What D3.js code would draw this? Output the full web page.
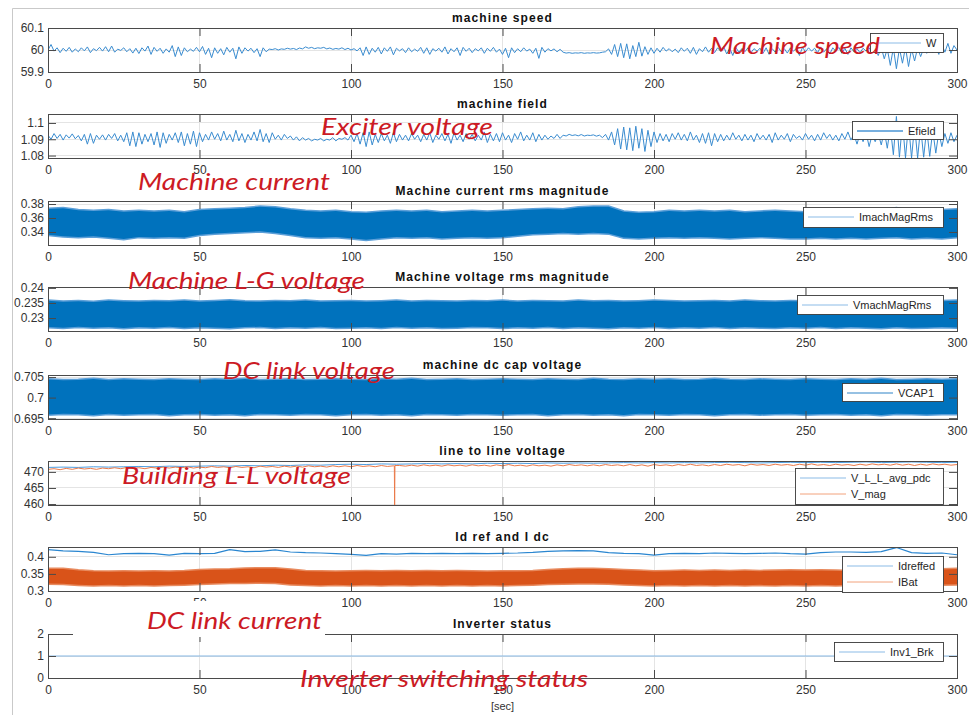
<!DOCTYPE html>
<html>
<head>
<meta charset="utf-8">
<script src="https://cdn.jsdelivr.net/npm/d3@7"></script>
<style>
  body { margin: 0; background: #fff; }
  svg { display: block; }
</style>
</head>
<body>
<div id="chart"></div>
<script>

/* ---- Data (time axis 0..300 s) ---- */

const timeTicks = [0, 50, 100, 150, 200, 250, 300];

const panelTitles = [
  'machine speed', 'machine field', 'Machine current rms magnitude',
  'Machine voltage rms magnitude', 'machine dc cap voltage',
  'line to line voltage', 'Id ref and I dc', 'Inverter status'];

const legendLabels = [
  ['W'], ['Efield'], ['ImachMagRms'], ['VmachMagRms'], ['VCAP1'],
  ['V_L_L_avg_pdc', 'V_mag'], ['Idreffed', 'IBat'], ['Inv1_Brk']];

const speedTicks = [59.9, 60, 60.1];
const fieldTicks = [1.08, 1.09, 1.1];
const imachTicks = [0.34, 0.36, 0.38];
const vmachTicks = [0.23, 0.235, 0.24];
const vcapTicks = [0.695, 0.7, 0.705];
const lineTicks = [460, 465, 470];
const idTicks = [0.3, 0.35, 0.4];
const invTicks = [0, 1, 2];

/** Machine speed W, one sample per second */
const speedW = [
  60.000, 60.025, 59.995, 60.010, 59.988, 60.008, 59.994, 60.012, 59.990, 60.005,
  59.992, 60.010, 59.996, 60.014, 59.988, 60.006, 59.997, 60.012, 59.995, 60.015,
  59.992, 60.018, 59.990, 60.004, 59.998, 60.010, 59.992, 60.006, 59.986, 60.008,
  59.984, 60.010, 59.995, 60.018, 59.980, 60.012, 59.994, 60.008, 59.985, 60.005,
  59.990, 60.020, 59.970, 60.014, 59.975, 60.010, 59.992, 60.004, 59.994, 60.012,
  59.992, 60.016, 59.980, 60.008, 59.965, 60.010, 59.985, 60.006, 59.978, 60.012,
  59.990, 60.008, 59.960, 60.014, 59.985, 60.010, 59.995, 60.008, 59.988, 60.006,
  59.970, 60.010, 59.992, 60.004, 60.002, 60.006, 60.000, 60.005, 60.003, 60.008,
  60.004, 60.007, 60.002, 60.009, 60.005, 60.014, 60.008, 60.012, 60.006, 60.010,
  60.008, 60.012, 60.005, 60.009, 60.003, 60.007, 60.004, 60.010, 60.002, 60.008,
  60.000, 60.006, 59.996, 60.010, 59.975, 60.014, 59.980, 60.008, 59.990, 60.012,
  59.982, 60.010, 59.994, 60.014, 59.978, 60.008, 59.996, 60.006, 59.988, 60.010,
  59.992, 60.004, 59.994, 60.012, 59.985, 60.010, 59.980, 60.006, 59.995, 60.008,
  59.990, 60.014, 59.982, 60.006, 59.992, 60.010, 59.975, 60.012, 59.994, 60.008,
  59.988, 60.006, 59.996, 60.010, 59.985, 60.008, 59.994, 60.012, 59.990, 60.004,
  59.980, 60.008, 59.965, 60.010, 59.988, 60.006, 59.992, 60.010, 59.995, 60.004,
  59.985, 60.008, 59.962, 60.012, 59.990, 60.006, 59.996, 60.005, 59.992, 60.003,
  59.990, 59.986, 59.988, 59.985, 59.987, 59.986, 59.988, 59.985, 59.987, 59.986,
  59.988, 59.986, 59.987, 59.990, 59.992, 60.005, 59.980, 60.025, 59.970, 60.030,
  59.965, 60.028, 59.960, 60.020, 59.970, 60.035, 59.972, 60.015, 59.980, 60.010,
  59.985, 60.008, 59.990, 60.012, 59.995, 60.006, 59.992, 60.004, 59.988, 60.010,
  59.994, 60.008, 59.985, 60.012, 59.980, 60.006, 59.992, 60.014, 59.990, 60.008,
  59.988, 60.010, 59.994, 60.015, 59.982, 60.008, 59.975, 60.012, 59.990, 60.006,
  59.992, 60.010, 59.988, 60.006, 59.995, 60.008, 59.985, 60.010, 59.980, 60.006,
  59.990, 60.012, 59.992, 60.006, 59.986, 60.010, 59.994, 60.008, 59.975, 60.012,
  59.992, 60.010, 59.995, 60.008, 59.988, 60.014, 59.990, 60.006, 59.982, 60.010,
  59.994, 60.012, 59.985, 60.008, 59.980, 60.010, 59.992, 60.006, 59.988, 60.008,
  59.995, 60.010, 59.986, 60.008, 59.975, 60.012, 59.960, 60.005, 59.930, 60.010,
  59.915, 60.008, 59.940, 60.012, 59.925, 60.005, 59.950, 60.010, 59.970, 60.008,
  59.985, 60.010, 59.988, 60.015, 59.980, 60.025, 59.990, 60.030, 59.985, 60.020,
  60.000];

/** Exciter field voltage Efield, one sample per second */
const efield = [
  1.0925, 1.0900, 1.0935, 1.0905, 1.0930, 1.0895, 1.0927, 1.0907, 1.0933, 1.0903,
  1.0923, 1.0890, 1.0930, 1.0870, 1.0935, 1.0875, 1.0925, 1.0900, 1.0927, 1.0895,
  1.0930, 1.0905, 1.0935, 1.0890, 1.0925, 1.0885, 1.0940, 1.0860, 1.0945, 1.0855,
  1.0940, 1.0870, 1.0930, 1.0885, 1.0935, 1.0865, 1.0945, 1.0850, 1.0940, 1.0875,
  1.0930, 1.0895, 1.0940, 1.0880, 1.0945, 1.0860, 1.0935, 1.0870, 1.0950, 1.0855,
  1.0940, 1.0885, 1.0930, 1.0895, 1.0945, 1.0900, 1.0935, 1.0890, 1.0950, 1.0895,
  1.0930, 1.0885, 1.0955, 1.0890, 1.0935, 1.0880, 1.0930, 1.0895, 1.0945, 1.0890,
  1.0960, 1.0885, 1.0935, 1.0880, 1.0940, 1.0900, 1.0925, 1.0895, 1.0930, 1.0905,
  1.0920, 1.0895, 1.0915, 1.0890, 1.0910, 1.0895, 1.0905, 1.0890, 1.0900, 1.0895,
  1.0905, 1.0890, 1.0900, 1.0895, 1.0910, 1.0890, 1.0905, 1.0900, 1.0910, 1.0895,
  1.0925, 1.0885, 1.0935, 1.0870, 1.0940, 1.0855, 1.0945, 1.0865, 1.0930, 1.0880,
  1.0935, 1.0890, 1.0925, 1.0875, 1.0940, 1.0885, 1.0930, 1.0895, 1.0925, 1.0890,
  1.0935, 1.0900, 1.0925, 1.0885, 1.0930, 1.0895, 1.0940, 1.0880, 1.0925, 1.0900,
  1.0935, 1.0890, 1.0930, 1.0875, 1.0940, 1.0895, 1.0925, 1.0885, 1.0935, 1.0900,
  1.0930, 1.0890, 1.0925, 1.0895, 1.0945, 1.0880, 1.0930, 1.0890, 1.0935, 1.0885,
  1.0940, 1.0895, 1.0925, 1.0880, 1.0935, 1.0900, 1.0945, 1.0890, 1.0925, 1.0895,
  1.0940, 1.0885, 1.0930, 1.0895, 1.0925, 1.0900, 1.0920, 1.0905, 1.0930, 1.0905,
  1.0925, 1.0920, 1.0930, 1.0923, 1.0927, 1.0921, 1.0929, 1.0920, 1.0925, 1.0923,
  1.0927, 1.0919, 1.0925, 1.0910, 1.0930, 1.0895, 1.0945, 1.0865, 1.0965, 1.0840,
  1.0975, 1.0835, 1.0970, 1.0830, 1.0980, 1.0845, 1.0965, 1.0825, 1.0955, 1.0855,
  1.0945, 1.0880, 1.0935, 1.0890, 1.0930, 1.0885, 1.0935, 1.0900, 1.0940, 1.0895,
  1.0930, 1.0890, 1.0945, 1.0895, 1.0925, 1.0880, 1.0935, 1.0875, 1.0940, 1.0860,
  1.0935, 1.0885, 1.0930, 1.0890, 1.0925, 1.0895, 1.0940, 1.0900, 1.0925, 1.0890,
  1.0930, 1.0895, 1.0925, 1.0885, 1.0935, 1.0900, 1.0925, 1.0895, 1.0930, 1.0880,
  1.0940, 1.0895, 1.0925, 1.0900, 1.0935, 1.0885, 1.0930, 1.0905, 1.0920, 1.0895,
  1.0935, 1.0900, 1.0925, 1.0890, 1.0930, 1.0895, 1.0940, 1.0905, 1.0930, 1.0895,
  1.0925, 1.0890, 1.0935, 1.0900, 1.0945, 1.0895, 1.0930, 1.0870, 1.0935, 1.0885,
  1.0940, 1.0855, 1.0930, 1.0885, 1.0935, 1.0865, 1.0950, 1.0845, 1.0975, 1.0805,
  1.1040, 1.0790, 1.1005, 1.0785, 1.0995, 1.0785, 1.0985, 1.0785, 1.0975, 1.0790,
  1.0965, 1.0795, 1.0955, 1.0815, 1.0945, 1.0855, 1.0935, 1.0875, 1.0940, 1.0885,
  1.0925];

/* Dense signals: envelope of the filled band, one value per 5 s */
const imachUpper = [
  0.373, 0.374, 0.371, 0.370, 0.371, 0.369, 0.370, 0.369, 0.370, 0.368,
  0.371, 0.372, 0.373, 0.374, 0.376, 0.375, 0.372, 0.370, 0.369, 0.370,
  0.368, 0.367, 0.369, 0.370, 0.369, 0.370, 0.368, 0.369, 0.370, 0.369,
  0.370, 0.371, 0.372, 0.373, 0.372, 0.375, 0.376, 0.376, 0.369, 0.367,
  0.368, 0.370, 0.369, 0.370, 0.369, 0.370, 0.368, 0.369, 0.370, 0.369,
  0.368, 0.369, 0.368, 0.369, 0.368, 0.370, 0.374, 0.370, 0.369, 0.371,
  0.372];
const imachLower = [
  0.336, 0.334, 0.333, 0.334, 0.332, 0.330, 0.333, 0.332, 0.333, 0.332,
  0.336, 0.338, 0.339, 0.340, 0.341, 0.339, 0.336, 0.333, 0.332, 0.333,
  0.331, 0.329, 0.331, 0.333, 0.332, 0.333, 0.331, 0.332, 0.333, 0.332,
  0.333, 0.335, 0.337, 0.338, 0.339, 0.338, 0.339, 0.338, 0.332, 0.331,
  0.332, 0.333, 0.332, 0.333, 0.332, 0.331, 0.332, 0.333, 0.332, 0.331,
  0.331, 0.332, 0.331, 0.332, 0.331, 0.332, 0.333, 0.331, 0.332, 0.331,
  0.333];

const vmachUpper = [
  0.2357, 0.2354, 0.2356, 0.2353, 0.2357, 0.2355, 0.2354, 0.2356, 0.2355, 0.2357,
  0.2354, 0.2356, 0.2358, 0.2355, 0.2354, 0.2356, 0.2355, 0.2357, 0.2354, 0.2355,
  0.2356, 0.2354, 0.2355, 0.2357, 0.2354, 0.2356, 0.2355, 0.2354, 0.2356, 0.2355,
  0.2357, 0.2354, 0.2356, 0.2355, 0.2354, 0.2357, 0.2355, 0.2356, 0.2354, 0.2355,
  0.2357, 0.2356, 0.2354, 0.2355, 0.2356, 0.2354, 0.2357, 0.2355, 0.2354, 0.2356,
  0.2355, 0.2354, 0.2356, 0.2355, 0.2357, 0.2354, 0.2356, 0.2355, 0.2354, 0.2356,
  0.2357];
const vmachLower = [
  0.2270, 0.2268, 0.2271, 0.2269, 0.2270, 0.2267, 0.2270, 0.2269, 0.2271, 0.2268,
  0.2270, 0.2269, 0.2267, 0.2270, 0.2271, 0.2268, 0.2270, 0.2269, 0.2271, 0.2268,
  0.2269, 0.2270, 0.2268, 0.2271, 0.2269, 0.2270, 0.2268, 0.2269, 0.2271, 0.2270,
  0.2268, 0.2270, 0.2269, 0.2271, 0.2268, 0.2270, 0.2269, 0.2267, 0.2270, 0.2269,
  0.2271, 0.2268, 0.2270, 0.2269, 0.2271, 0.2268, 0.2270, 0.2269, 0.2268, 0.2270,
  0.2269, 0.2271, 0.2268, 0.2270, 0.2269, 0.2267, 0.2270, 0.2268, 0.2269, 0.2270,
  0.2269];

const vcapUpper = [
  0.7044, 0.7042, 0.7043, 0.7045, 0.7042, 0.7044, 0.7043, 0.7042, 0.7044, 0.7043,
  0.7042, 0.7044, 0.7043, 0.7045, 0.7042, 0.7043, 0.7044, 0.7042, 0.7043, 0.7044,
  0.7043, 0.7042, 0.7044, 0.7043, 0.7045, 0.7042, 0.7043, 0.7044, 0.7042, 0.7043,
  0.7044, 0.7043, 0.7042, 0.7044, 0.7043, 0.7042, 0.7045, 0.7043, 0.7042, 0.7044,
  0.7043, 0.7044, 0.7042, 0.7043, 0.7045, 0.7043, 0.7042, 0.7044, 0.7043, 0.7042,
  0.7044, 0.7043, 0.7042, 0.7044, 0.7043, 0.7045, 0.7042, 0.7043, 0.7044, 0.7043,
  0.7044];
const vcapLower = [
  0.6959, 0.6961, 0.6960, 0.6958, 0.6961, 0.6959, 0.6960, 0.6961, 0.6958, 0.6960,
  0.6961, 0.6959, 0.6960, 0.6958, 0.6961, 0.6960, 0.6959, 0.6961, 0.6960, 0.6958,
  0.6960, 0.6961, 0.6959, 0.6960, 0.6958, 0.6961, 0.6960, 0.6959, 0.6961, 0.6960,
  0.6959, 0.6960, 0.6961, 0.6958, 0.6960, 0.6961, 0.6959, 0.6960, 0.6958, 0.6961,
  0.6960, 0.6959, 0.6961, 0.6960, 0.6958, 0.6960, 0.6961, 0.6959, 0.6960, 0.6961,
  0.6959, 0.6960, 0.6961, 0.6959, 0.6960, 0.6958, 0.6961, 0.6960, 0.6959, 0.6960,
  0.6960];

/** Line to line voltage, average at the pdc, one value per 5 s */
const vllAvg = [
  471.4, 471.5, 471.4, 471.6, 471.5, 471.6, 471.7, 471.6, 471.8, 471.7,
  471.8, 471.9, 471.8, 472.0, 471.9, 472.1, 472.0, 472.2, 472.1, 472.3,
  472.4, 472.3, 472.5, 472.4, 472.5, 472.6, 472.5, 472.6, 472.5, 472.7,
  472.6, 472.7, 472.6, 472.8, 472.7, 472.8, 472.7, 472.8, 472.9, 472.8,
  472.9, 472.8, 472.9, 472.8, 472.9, 473.0, 472.9, 472.8, 472.9, 473.0,
  472.9, 473.0, 472.9, 473.0, 473.1, 472.9, 473.0, 473.1, 473.0, 472.9,
  473.0];

/** Voltage magnitude V_mag, one value per 2 s */
const vMag = [
  470.8, 471.0, 470.7, 471.1, 470.8, 471.2, 470.9, 471.1, 470.8, 471.2,
  471.0, 471.3, 471.0, 471.4, 471.1, 471.3, 471.0, 471.4, 471.2, 471.5,
  471.2, 471.5, 471.3, 471.6, 471.2, 471.5, 471.3, 471.7, 471.4, 471.6,
  471.3, 471.7, 471.4, 471.6, 471.3, 471.8, 471.5, 471.7, 471.4, 471.8,
  471.5, 471.8, 471.5, 471.9, 471.6, 471.8, 471.5, 471.9, 471.6, 471.9,
  471.6, 472.0, 471.7, 471.9, 471.6, 472.0, 471.7, 471.9, 472.0, 471.8,
  472.1, 471.8, 472.2, 471.9, 472.1, 471.8, 472.2, 471.9, 472.1, 471.8,
  472.2, 471.9, 472.1, 471.8, 472.2, 471.9, 472.3, 471.9, 472.1, 471.8,
  472.2, 471.9, 472.1, 471.8, 472.2, 471.9, 472.3, 472.0, 472.2, 471.9,
  472.2, 471.9, 472.3, 472.0, 472.2, 471.9, 472.3, 471.9, 472.2, 471.8,
  472.3, 472.0, 472.2, 471.9, 472.3, 472.0, 472.4, 472.0, 472.2, 471.9,
  472.3, 472.0, 472.4, 472.1, 472.3, 471.9, 472.4, 472.1, 472.3, 472.0,
  472.4, 472.1, 472.3, 472.0, 472.4, 472.1, 472.5, 472.1, 472.3, 472.0,
  472.4, 472.1, 472.3, 472.0, 472.4, 472.1, 472.5, 472.2, 472.4, 472.1,
  472.5, 472.1, 472.4, 472.0, 472.4, 472.1, 472.5, 472.2, 472.4, 472.1,
  472.3];
/** The single V_mag dip near t = 114 s */
const vMagDipTime = [114.3, 114.4, 114.5];
const vMagDip = [471.9, 459.7, 472.0];

/** Id reference, one value per 5 s */
const idRef = [
  0.421, 0.417, 0.416, 0.413, 0.406, 0.409, 0.410, 0.409, 0.405, 0.410,
  0.409, 0.410, 0.421, 0.415, 0.416, 0.420, 0.414, 0.412, 0.411, 0.409,
  0.407, 0.404, 0.409, 0.408, 0.410, 0.409, 0.410, 0.409, 0.410, 0.409,
  0.410, 0.411, 0.413, 0.416, 0.417, 0.418, 0.417, 0.412, 0.410, 0.409,
  0.405, 0.409, 0.410, 0.409, 0.411, 0.410, 0.409, 0.410, 0.411, 0.409,
  0.408, 0.412, 0.414, 0.414, 0.413, 0.415, 0.427, 0.412, 0.410, 0.411,
  0.406];
const iBatUpper = [
  0.364, 0.364, 0.360, 0.357, 0.356, 0.357, 0.356, 0.357, 0.356, 0.358,
  0.361, 0.362, 0.363, 0.365, 0.366, 0.366, 0.362, 0.358, 0.357, 0.356,
  0.357, 0.358, 0.357, 0.358, 0.357, 0.358, 0.357, 0.358, 0.357, 0.356,
  0.357, 0.357, 0.358, 0.361, 0.363, 0.364, 0.364, 0.363, 0.361, 0.359,
  0.357, 0.358, 0.359, 0.358, 0.359, 0.358, 0.359, 0.358, 0.359, 0.360,
  0.359, 0.360, 0.359, 0.358, 0.359, 0.358, 0.359, 0.358, 0.359, 0.363,
  0.364];
const iBatLower = [
  0.322, 0.321, 0.318, 0.317, 0.318, 0.317, 0.318, 0.317, 0.318, 0.319,
  0.321, 0.323, 0.324, 0.324, 0.325, 0.324, 0.320, 0.318, 0.317, 0.318,
  0.317, 0.318, 0.317, 0.318, 0.317, 0.318, 0.317, 0.318, 0.317, 0.318,
  0.317, 0.318, 0.319, 0.321, 0.322, 0.323, 0.323, 0.322, 0.320, 0.318,
  0.317, 0.318, 0.317, 0.318, 0.317, 0.318, 0.317, 0.318, 0.317, 0.318,
  0.317, 0.318, 0.317, 0.318, 0.317, 0.318, 0.317, 0.318, 0.317, 0.319,
  0.320];

/** Inverter breaker status at t = 0 and t = 300 s */
const invTime = [0, 300];
const invBrk = [1, 1];

const annotationTexts = [
  'Machine speed', 'Exciter voltage', 'Machine current', 'Machine L-G voltage',
  'DC link voltage', 'Building L-L voltage', 'DC link current',
  'Inverter switching status'];

/* ---- Layout ---- */

const width = 969;
const height = 715;
const plotLeft = 48;
const plotRight = 957;
const panelHeight = 44;
const tickLen = 8;
const frameColor = '#4a4a4a';
const gridColor = '#e4e4e4';
const textColor = '#333';
const blue = '#0072BD';
const lightBlue = '#8bbbe6';
const orange = '#D95319';
const lightOrange = '#f2a27c';

/**
 * Pair a uniformly sampled series with its sample times.
 *
 * @param {Number[]} values The samples
 * @param {Number} step Sample spacing in seconds
 * @returns {Array} [t, value] pairs
 */
function sampled(values, step) {
  return values.map((v, i) => [i * step, v]);
}

/**
 * Pair band envelopes with their sample times.
 *
 * @returns {Array} [t, upper, lower] triples
 */
function envelope(upper, lower, step) {
  return upper.map((u, i) => [i * step, u, lower[i]]);
}

const vMagPoints = sampled(vMag, 2)
    .concat(vMagDipTime.map((t, i) => [t, vMagDip[i]]))
    .sort((a, b) => a[0] - b[0]);

const panels = [
  {
    top: 28, yDomain: [59.9, 60.1], yTicks: speedTicks,
    series: [{kind: 'line', points: sampled(speedW, 1), color: '#3a8cd0', width: 1}],
    legend: {left: 870, top: 33, height: 19, colors: [lightBlue], widths: [1]},
  },
  {
    top: 114, yDomain: [1.0785, 1.1055], yTicks: fieldTicks,
    series: [{kind: 'line', points: sampled(efield, 1), color: '#3a8cd0', width: 1}],
    legend: {left: 852, top: 121, height: 18, colors: ['#4a94d4'], widths: [1.6]},
  },
  {
    top: 201, yDomain: [0.3214, 0.3843], yTicks: imachTicks,
    series: [{kind: 'band', points: envelope(imachUpper, imachLower, 5),
        color: blue, fringe: '#5c9fd8'}],
    legend: {left: 803, top: 207, height: 20, colors: [lightBlue], widths: [1]},
  },
  {
    top: 287, yDomain: [0.2257, 0.2403], yTicks: vmachTicks,
    series: [{kind: 'band', points: envelope(vmachUpper, vmachLower, 5),
        color: blue, fringe: '#5c9fd8'}],
    legend: {left: 797, top: 295, height: 19, colors: [lightBlue], widths: [1]},
  },
  {
    top: 375, yDomain: [0.6948, 0.7055], yTicks: vcapTicks,
    series: [{kind: 'band', points: envelope(vcapUpper, vcapLower, 5),
        color: blue, fringe: '#5c9fd8'}],
    legend: {left: 842, top: 383, height: 18, colors: ['#2f84c8'], widths: [1.2]},
  },
  {
    top: 461, yDomain: [459.7, 473.4], yTicks: lineTicks,
    series: [
      {kind: 'line', points: sampled(vllAvg, 5), color: '#4d9de0', width: 1},
      {kind: 'line', points: vMagPoints, color: '#ea7a4a', width: 1},
    ],
    legend: {left: 795, top: 468, height: 36, colors: [lightBlue, lightOrange], widths: [1, 1]},
  },
  {
    top: 547, yDomain: [0.3, 0.4286], yTicks: idTicks,
    series: [
      {kind: 'line', points: sampled(idRef, 5), color: '#2a86d0', width: 1.2},
      {kind: 'band', points: envelope(iBatUpper, iBatLower, 5),
          color: orange, fringe: '#e88a5e'},
    ],
    legend: {left: 842, top: 556, height: 36, colors: [lightBlue, lightOrange], widths: [1, 1]},
  },
  {
    top: 634, yDomain: [0, 2], yTicks: invTicks,
    series: [{kind: 'line', points: invTime.map((t, i) => [t, invBrk[i]]), color: '#86b8e3', width: 1.2}],
    legend: {left: 834, top: 642, height: 19, colors: [lightBlue], widths: [1]},
  },
];

/* Red call-outs laid over the figure: left x, baseline y, width */
const annotationBoxes = [
  [710, 54, 170], [321, 135, 172], [138, 190, 192], [128, 289, 237],
  [223, 379, 172], [122, 484, 229], [147, 629, 175], [300, 687, 288]];

/* ---- Drawing ---- */

const svg = d3.select('#chart')
    .append('svg')
    .attr('width', width)
    .attr('height', height)
    .attr('viewBox', `0 0 ${width} ${height}`)
    .style('font-family', '"Liberation Sans", Arial, sans-serif');

const x = d3.scaleLinear().domain([0, 300]).range([plotLeft, plotRight]);

/* Figure border */
svg.append('path')
    .attr('d', `M12.5,${height} V8.5 H${width}`)
    .attr('fill', 'none')
    .attr('stroke', '#c9c9c9');

/**
 * Draw one sub plot: grid, signals, box with inward ticks, title, legend.
 *
 * @param {Object} panel The panel settings
 * @param {Number} index Panel position from the top
 */
function drawPanel(panel, index) {
  let top = panel.top;
  let bottom = top + panelHeight;
  let y = d3.scaleLinear().domain(panel.yDomain).range([bottom, top]);
  let g = svg.append('g').attr('class', 'sub-plot');

  svg.append('clipPath')
      .attr('id', 'clip-' + index)
      .append('rect')
      .attr('x', plotLeft)
      .attr('y', top)
      .attr('width', plotRight - plotLeft)
      .attr('height', panelHeight);

  /* Grid */
  let gridD3 = g.append('g')
      .attr('stroke', gridColor)
      .attr('shape-rendering', 'crispEdges');
  gridD3.selectAll('.vgrid')
      .data(timeTicks.slice(1, -1))
      .join('line')
      .attr('x1', d => x(d))
      .attr('x2', d => x(d))
      .attr('y1', top)
      .attr('y2', bottom);
  gridD3.selectAll('.hgrid')
      .data(panel.yTicks)
      .join('line')
      .attr('x1', plotLeft)
      .attr('x2', plotRight)
      .attr('y1', d => y(d))
      .attr('y2', d => y(d));

  /* Signals */
  let dataD3 = g.append('g').attr('clip-path', `url(#clip-${index})`);
  for (let s of panel.series) {
    if (s.kind === 'band') {
      let area = d3.area()
          .x(d => x(d[0]))
          .y0(d => y(d[2]))
          .y1(d => y(d[1]));
      // light fringe of the spikes just outside the solid core
      dataD3.append('path')
          .datum(s.points)
          .attr('d', area)
          .attr('fill', 'none')
          .attr('stroke', s.fringe)
          .attr('stroke-width', 3);
      dataD3.append('path')
          .datum(s.points)
          .attr('d', area)
          .attr('fill', s.color);
    } else {
      let line = d3.line()
          .x(d => x(d[0]))
          .y(d => y(d[1]));
      dataD3.append('path')
          .datum(s.points)
          .attr('d', line)
          .attr('fill', 'none')
          .attr('stroke', s.color)
          .attr('stroke-width', s.width)
          .attr('stroke-linejoin', 'round');
    }
  }

  /* Axes with inward ticks on all four sides */
  let styleAxis = (axisD3, withText) => {
    axisD3.attr('font-family', null).attr('font-size', null);
    axisD3.select('.domain').remove();
    axisD3.selectAll('.tick line').attr('stroke', frameColor);
    axisD3.selectAll('.tick text')
        .attr('fill', textColor)
        .attr('font-size', 12)
        .style('display', withText ? null : 'none');
  };

  g.append('g')
      .attr('transform', `translate(0,${bottom})`)
      .call(d3.axisBottom(x).tickValues(timeTicks)
          .tickSizeInner(-tickLen).tickSizeOuter(0).tickPadding(7))
      .call(a => styleAxis(a, true));
  g.append('g')
      .attr('transform', `translate(0,${top})`)
      .call(d3.axisTop(x).tickValues(timeTicks)
          .tickSizeInner(-tickLen).tickSizeOuter(0))
      .call(a => styleAxis(a, false));
  g.append('g')
      .attr('transform', `translate(${plotLeft},0)`)
      .call(d3.axisLeft(y).tickValues(panel.yTicks).tickFormat(d => String(d))
          .tickSizeInner(-tickLen).tickSizeOuter(0).tickPadding(4))
      .call(a => styleAxis(a, true));
  g.append('g')
      .attr('transform', `translate(${plotRight},0)`)
      .call(d3.axisRight(y).tickValues(panel.yTicks)
          .tickSizeInner(-tickLen).tickSizeOuter(0))
      .call(a => styleAxis(a, false));

  g.append('rect')
      .attr('x', plotLeft + 0.5)
      .attr('y', top + 0.5)
      .attr('width', plotRight - plotLeft)
      .attr('height', panelHeight)
      .attr('fill', 'none')
      .attr('stroke', frameColor);

  /* Title */
  g.append('text')
      .attr('x', (plotLeft + plotRight) / 2)
      .attr('y', top - 6)
      .attr('text-anchor', 'middle')
      .attr('font-size', 12)
      .attr('font-weight', 'bold')
      .attr('letter-spacing', '1.1px')
      .attr('fill', '#111')
      .text(panelTitles[index]);

  /* Legend */
  let legend = panel.legend;
  let legendD3 = g.append('g').attr('class', 'legend');
  legendD3.append('rect')
      .attr('x', legend.left + 0.5)
      .attr('y', legend.top + 0.5)
      .attr('width', 943 - legend.left)
      .attr('height', legend.height)
      .attr('fill', '#fff')
      .attr('stroke', '#3a3a3a')
      .attr('stroke-width', 0.9);
  legendLabels[index].forEach((label, i) => {
    let ly = legend.top + 10 + i * 16;
    legendD3.append('line')
        .attr('x1', legend.left + 5)
        .attr('x2', legend.left + 51)
        .attr('y1', ly)
        .attr('y2', ly)
        .attr('stroke', legend.colors[i])
        .attr('stroke-width', legend.widths[i]);
    legendD3.append('text')
        .attr('x', legend.left + 56)
        .attr('y', ly)
        .attr('dy', '0.35em')
        .attr('font-size', 11)
        .attr('fill', '#262626')
        .text(label);
  });
}

panels.forEach(drawPanel);

/* X axis label */
svg.append('text')
    .attr('x', (plotLeft + plotRight) / 2)
    .attr('y', 710)
    .attr('text-anchor', 'middle')
    .attr('font-size', 11)
    .attr('fill', textColor)
    .text('[sec]');

/* The "DC link current" call-out sits on a white patch */
svg.append('rect')
    .attr('x', 73)
    .attr('y', 601)
    .attr('width', 252)
    .attr('height', 36)
    .attr('fill', '#fff');

svg.append('g')
    .attr('class', 'annotations')
    .selectAll('text')
    .data(annotationTexts)
    .join('text')
    .attr('x', (d, i) => annotationBoxes[i][0])
    .attr('y', (d, i) => annotationBoxes[i][1])
    .attr('textLength', (d, i) => annotationBoxes[i][2])
    .attr('lengthAdjust', 'spacingAndGlyphs')
    .attr('font-family', 'Lato, "Open Sans", sans-serif')
    .attr('font-style', 'italic')
    .attr('font-size', 24)
    .attr('fill', '#cc1a24')
    .text(d => d);

</script>
</body>
</html>
